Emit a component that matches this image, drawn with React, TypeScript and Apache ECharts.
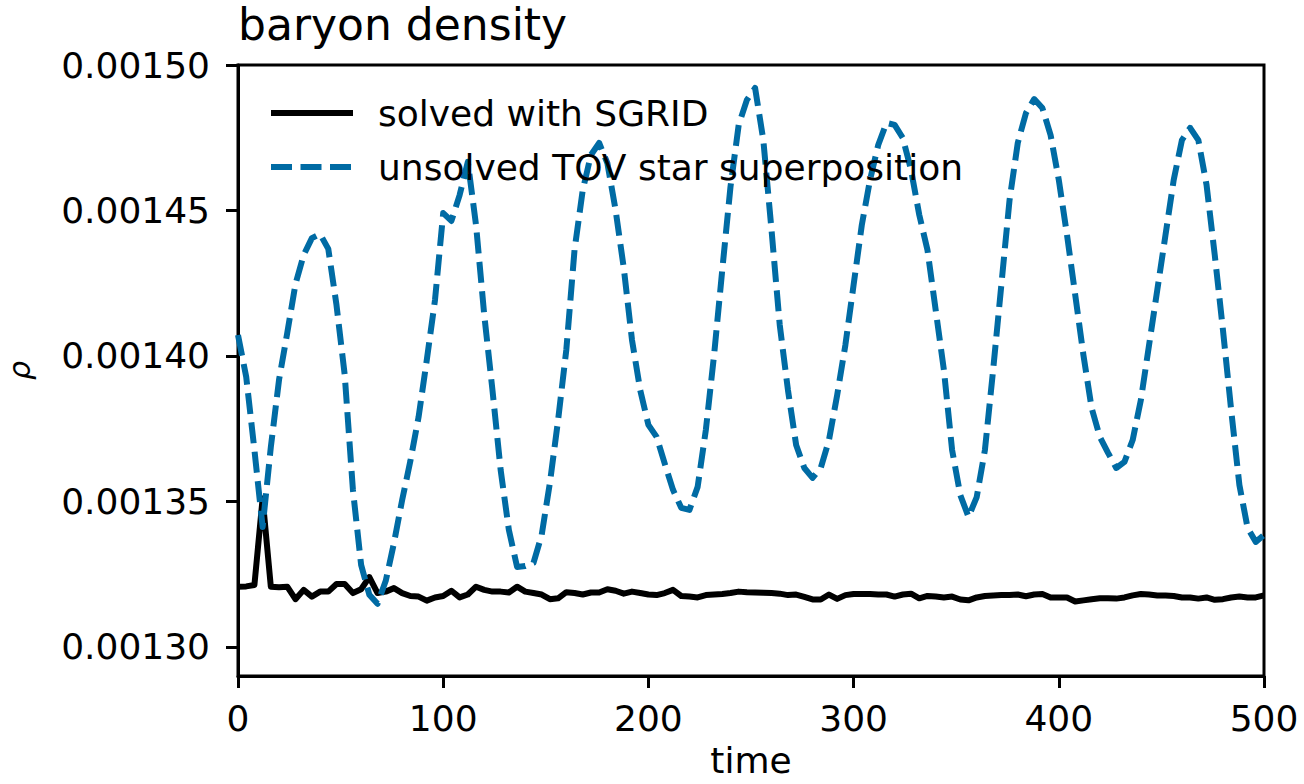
import React, { useEffect, useRef } from "react";
import * as echarts from "echarts";

const titleText = "baryon density";
const xName = "time";
const yName = "ρ";
const seriesNames = ["solved with SGRID", "unsolved TOV star superposition"];

const xTicks = [0, 100, 200, 300, 400, 500];
const yTicks = [0.0013, 0.00135, 0.0014, 0.00145, 0.0015];

const times = [
  0, 4, 8, 12, 16, 20, 24, 28, 32, 36, 40, 44, 48, 52, 56, 60, 64, 68, 72, 76,
  80, 84, 88, 92, 96, 100, 104, 108, 112, 116, 120, 124, 128, 132, 136, 140,
  144, 148, 152, 156, 160, 164, 168, 172, 176, 180, 184, 188, 192, 196, 200,
  204, 208, 212, 216, 220, 224, 228, 232, 236, 240, 244, 248, 252, 256, 260,
  264, 268, 272, 276, 280, 284, 288, 292, 296, 300, 304, 308, 312, 316, 320,
  324, 328, 332, 336, 340, 344, 348, 352, 356, 360, 364, 368, 372, 376, 380,
  384, 388, 392, 396, 400, 404, 408, 412, 416, 420, 424, 428, 432, 436, 440,
  444, 448, 452, 456, 460, 464, 468, 472, 476, 480, 484, 488, 492, 496, 500,
];

const solved = [
  132.07e-5, 132.08e-5, 132.13e-5, 135.1e-5, 132.07e-5, 132.05e-5, 132.07e-5, 131.64e-5, 131.96e-5, 131.73e-5,
  131.9e-5, 131.9e-5, 132.16e-5, 132.16e-5, 131.85e-5, 131.98e-5, 132.4e-5, 131.85e-5, 131.9e-5, 132.02e-5,
  131.85e-5, 131.75e-5, 131.73e-5, 131.59e-5, 131.7e-5, 131.75e-5, 131.93e-5, 131.7e-5, 131.8e-5, 132.07e-5,
  131.96e-5, 131.9e-5, 131.9e-5, 131.87e-5, 132.07e-5, 131.9e-5, 131.85e-5, 131.8e-5, 131.64e-5, 131.67e-5,
  131.88e-5, 131.85e-5, 131.8e-5, 131.87e-5, 131.87e-5, 131.98e-5, 131.93e-5, 131.83e-5, 131.9e-5, 131.85e-5,
  131.8e-5, 131.78e-5, 131.85e-5, 131.96e-5, 131.75e-5, 131.73e-5, 131.7e-5, 131.78e-5, 131.8e-5, 131.82e-5,
  131.85e-5, 131.9e-5, 131.88e-5, 131.87e-5, 131.86e-5, 131.85e-5, 131.83e-5, 131.78e-5, 131.8e-5, 131.72e-5,
  131.63e-5, 131.63e-5, 131.8e-5, 131.65e-5, 131.78e-5, 131.82e-5, 131.82e-5, 131.82e-5, 131.8e-5, 131.8e-5,
  131.73e-5, 131.8e-5, 131.83e-5, 131.67e-5, 131.75e-5, 131.73e-5, 131.7e-5, 131.73e-5, 131.63e-5, 131.6e-5,
  131.7e-5, 131.75e-5, 131.77e-5, 131.78e-5, 131.78e-5, 131.8e-5, 131.74e-5, 131.8e-5, 131.82e-5, 131.7e-5,
  131.7e-5, 131.7e-5, 131.56e-5, 131.6e-5, 131.64e-5, 131.67e-5, 131.67e-5, 131.66e-5, 131.7e-5, 131.77e-5,
  131.82e-5, 131.8e-5, 131.77e-5, 131.77e-5, 131.75e-5, 131.7e-5, 131.7e-5, 131.66e-5, 131.7e-5, 131.62e-5,
  131.64e-5, 131.7e-5, 131.73e-5, 131.7e-5, 131.7e-5, 131.77e-5,
];

const unsolved = [
  140.72e-5, 139.28e-5, 136.77e-5, 134.12e-5, 136.87e-5, 139.18e-5, 140.79e-5, 142.47e-5, 143.47e-5, 144.05e-5,
  144.19e-5, 143.68e-5, 141.75e-5, 139.35e-5, 135.4e-5, 132.82e-5, 131.79e-5, 131.48e-5, 132.27e-5, 133.57e-5,
  135.05e-5, 136.39e-5, 137.9e-5, 139.86e-5, 141.92e-5, 144.91e-5, 144.64e-5, 145.53e-5, 146.67e-5, 144.5e-5,
  141.41e-5, 138.83e-5, 136.08e-5, 134.02e-5, 132.75e-5, 132.78e-5, 132.89e-5, 133.85e-5, 135.64e-5, 137.8e-5,
  140.21e-5, 143.64e-5, 145.7e-5, 146.91e-5, 147.32e-5, 146.63e-5, 145.02e-5, 143.02e-5, 140.55e-5, 138.83e-5,
  137.63e-5, 137.22e-5, 136.29e-5, 135.4e-5, 134.78e-5, 134.71e-5, 135.5e-5, 137.46e-5, 140.03e-5, 142.96e-5,
  145.81e-5, 147.94e-5, 148.8e-5, 149.21e-5, 147.42e-5, 144.33e-5, 141.07e-5, 138.83e-5, 136.94e-5, 136.15e-5,
  135.81e-5, 136.15e-5, 137.11e-5, 138.66e-5, 140.38e-5, 142.44e-5, 144.5e-5, 146.05e-5, 147.25e-5, 148.01e-5,
  147.94e-5, 147.49e-5, 146.39e-5, 144.85e-5, 143.64e-5, 141.58e-5, 139.52e-5, 136.77e-5, 135.22e-5, 134.47e-5,
  135.15e-5, 136.77e-5, 139.52e-5, 142.44e-5, 145.36e-5, 147.32e-5, 148.35e-5, 148.83e-5, 148.52e-5, 147.59e-5,
  146.05e-5, 144.16e-5, 142.1e-5, 140.03e-5, 138.21e-5, 137.22e-5, 136.67e-5, 136.15e-5, 136.36e-5, 137.11e-5,
  138.49e-5, 140.38e-5, 142.27e-5, 144.16e-5, 146.05e-5, 147.42e-5, 147.84e-5, 147.42e-5, 145.88e-5, 143.47e-5,
  140.89e-5, 138.14e-5, 135.57e-5, 134.09e-5, 133.61e-5, 133.85e-5,
];

const FONT = "DejaVu Sans";

export default function App() {
  const ref = useRef<HTMLDivElement>(null);
  useEffect(() => {
    if (!ref.current) return;
    const chart = echarts.init(ref.current, undefined, { renderer: "svg" });
    chart.setOption({
      animation: false,
      backgroundColor: "#fff",
      title: {
        text: titleText,
        left: 238,
        top: 2,
        padding: 0,
        textStyle: { fontFamily: FONT, fontSize: 44, fontWeight: "normal", color: "#000" },
      },
      legend: {
        orient: "vertical",
        left: 268,
        top: 93,
        itemWidth: 82,
        itemHeight: 20,
        itemGap: 14,
        padding: 0,
        data: seriesNames,
        lineStyle: { width: 6 },
        itemStyle: { opacity: 0 },
        textStyle: {
          fontFamily: FONT,
          fontSize: 36,
          color: "#000",
          lineHeight: 40,
          padding: [0, 0, 0, 20],
        },
      },
      grid: {
        left: 238,
        right: 40,
        top: 65,
        bottom: 108,
        outerBoundsMode: "none",
        containLabel: false,
        show: true,
        borderColor: "#000",
        borderWidth: 3,
        backgroundColor: "transparent",
      },
      xAxis: {
        type: "value",
        min: 0,
        max: 500,
        interval: 100,
        name: xName,
        nameLocation: "middle",
        nameGap: 69,
        nameTextStyle: { fontFamily: FONT, fontSize: 36, color: "#000", lineHeight: 30 },
        axisLine: { show: true, lineStyle: { color: "#000", width: 3 } },
        axisTick: { show: true, length: 12, lineStyle: { color: "#000", width: 3 }, customValues: xTicks },
        axisLabel: {
          fontFamily: FONT,
          fontSize: 36,
          color: "#000",
          margin: 24,
          customValues: xTicks,
        },
        splitLine: { show: false },
      },
      yAxis: {
        type: "value",
        min: 0.00129,
        max: 0.0015,
        name: yName,
        nameLocation: "middle",
        nameGap: 204,
        nameRotate: 90,
        nameTextStyle: { fontFamily: FONT, fontSize: 30, fontStyle: "italic", color: "#000" },
        axisLine: { show: true, lineStyle: { color: "#000", width: 3 } },
        axisTick: { show: true, length: 12, lineStyle: { color: "#000", width: 3 }, customValues: yTicks },
        axisLabel: {
          fontFamily: FONT,
          fontSize: 36,
          color: "#000",
          margin: 28,
          customValues: yTicks,
          formatter: (v: number) => v.toFixed(5),
        },
        splitLine: { show: false },
      },
      series: [
        {
          name: seriesNames[0],
          type: "line",
          symbol: "none",
          showSymbol: false,
          data: times.map((t, i) => [t, solved[i]]),
          lineStyle: { color: "#000000", width: 6, join: "round" },
          itemStyle: { color: "#000000" },
        },
        {
          name: seriesNames[1],
          type: "line",
          symbol: "none",
          showSymbol: false,
          data: times.map((t, i) => [t, unsolved[i]]),
          lineStyle: { color: "#006BA4", width: 6, type: [21, 8.5], join: "round" },
          itemStyle: { color: "#006BA4" },
        },
      ],
    });
    return () => chart.dispose();
  }, []);
  return (
    <div
      ref={ref}
      style={{ position: "fixed", left: 0, top: 0, width: 1304, height: 784, background: "#fff" }}
    />
  );
}
